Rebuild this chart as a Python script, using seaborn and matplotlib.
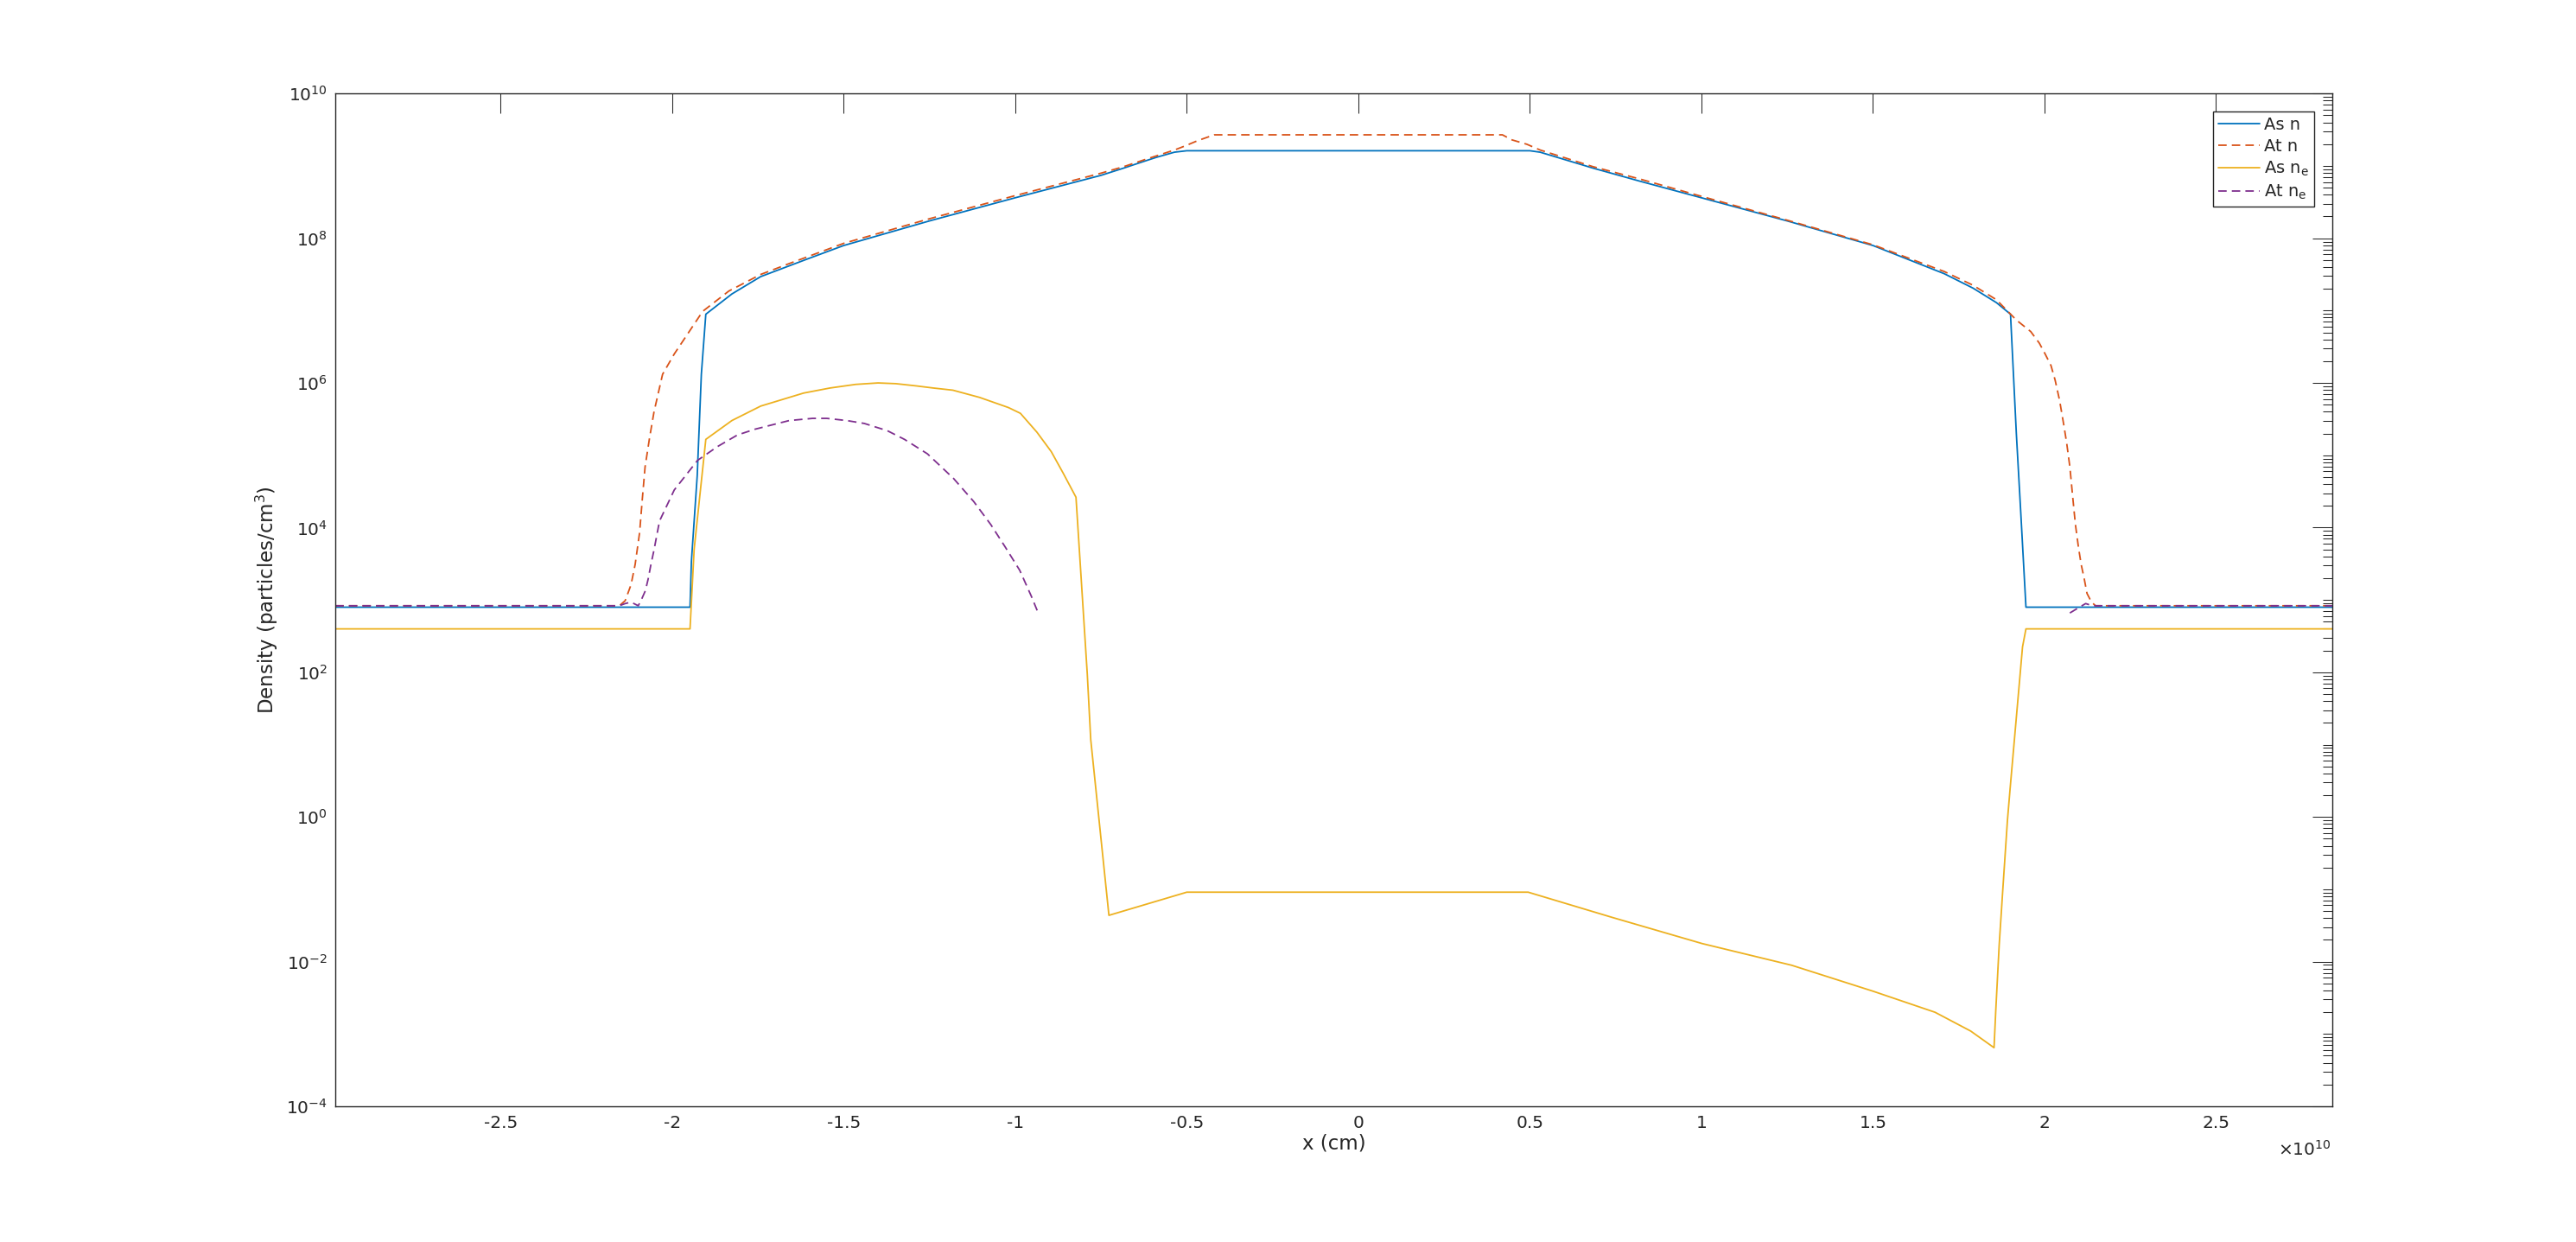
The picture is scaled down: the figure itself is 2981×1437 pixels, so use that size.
import numpy as np
import pandas as pd
import matplotlib
matplotlib.use("Agg")
import matplotlib.pyplot as plt
import seaborn as sns
from matplotlib.ticker import FixedLocator, LogLocator, NullFormatter, LogFormatterSciNotation

# ---------------- data (x in units of 1e10 cm, y as log10 density) ----------------
as_n_x = [-2.982, -1.948, -1.944, -1.927, -1.915, -1.902, -1.826, -1.742, -1.608, -1.5,
          -1.25, -1.0, -0.75, -0.684, -0.627, -0.588, -0.536, -0.5, 0.5, 0.53,
          0.684, 0.82, 1.0, 1.25, 1.5, 1.708, 1.792, 1.86, 1.901, 1.918,
          1.931, 1.946, 2.839]
as_n_log = [2.90, 2.90, 3.53, 4.72, 6.12, 6.95, 7.23, 7.47, 7.71, 7.90,
            8.24, 8.56, 8.87, 8.97, 9.06, 9.12, 9.19, 9.21, 9.21, 9.19,
            8.97, 8.79, 8.56, 8.24, 7.90, 7.51, 7.31, 7.11, 6.95, 5.30,
            4.20, 2.90, 2.90]

at_n_x = [-2.982, -2.154, -2.137, -2.12, -2.108, -2.095, -2.087, -2.079, -2.066, -2.053,
          -2.028, -1.994, -1.911, -1.835, -1.742, -1.659, -1.5, -1.25, -1.0, -0.75,
          -0.684, -0.627, -0.536, -0.506, -0.468, -0.429, -0.42, 0.42, 0.448, 0.491,
          0.53, 0.684, 0.82, 1.0, 1.25, 1.5, 1.708, 1.792, 1.86, 1.918,
          1.96, 1.985, 2.002, 2.019, 2.031, 2.044, 2.057, 2.065, 2.074, 2.082,
          2.09, 2.099, 2.107, 2.116, 2.124, 2.137, 2.149, 2.839]
at_n_log = [2.92, 2.92, 2.99, 3.21, 3.49, 3.93, 4.40, 4.84, 5.24, 5.60,
            6.12, 6.40, 6.99, 7.27, 7.50, 7.65, 7.93, 8.27, 8.59, 8.90,
            8.99, 9.08, 9.22, 9.275, 9.35, 9.415, 9.43, 9.43, 9.36, 9.30,
            9.22, 8.99, 8.82, 8.58, 8.25, 7.91, 7.54, 7.35, 7.15, 6.87,
            6.71, 6.55, 6.40, 6.24, 6.04, 5.76, 5.40, 5.16, 4.84, 4.44,
            4.05, 3.73, 3.49, 3.29, 3.09, 2.97, 2.92, 2.92]

as_ne_x = [-2.982, -1.948, -1.936, -1.902, -1.826, -1.742, -1.617, -1.54, -1.465, -1.40,
           -1.348, -1.29, -1.239, -1.182, -1.104, -1.02, -0.985, -0.937, -0.895, -0.86,
           -0.823, -0.790, -0.780, -0.727, -0.5, 0.495, 0.741, 1.002, 1.263, 1.501,
           1.681, 1.785, 1.853, 1.858, 1.868, 1.879, 1.892, 1.90, 1.936, 1.946,
           2.839]
as_ne_log = [2.60, 2.60, 3.70, 5.22, 5.48, 5.68, 5.86, 5.93, 5.98, 6.00,
             5.99, 5.96, 5.93, 5.90, 5.80, 5.66, 5.58, 5.32, 5.05, 4.75,
             4.42, 1.97, 1.07, -1.36, -1.04, -1.04, -1.39, -1.75, -2.05, -2.41,
             -2.70, -2.96, -3.19, -2.68, -1.77, -0.97, -0.05, 0.40, 2.35, 2.60,
             2.60]

at_ne_left_x = [-2.982, -2.154, -2.137, -2.12, -2.099, -2.091, -2.078, -2.07, -2.062, -2.053,
                -2.045, -2.037, -1.994, -1.926, -1.868, -1.810, -1.759, -1.709, -1.659, -1.591,
                -1.549, -1.491, -1.440, -1.373, -1.323, -1.256, -1.180, -1.121, -1.071, -1.029,
                -0.987, -0.953, -0.934]
at_ne_left_log = [2.92, 2.92, 2.95, 2.97, 2.92, 2.99, 3.13, 3.29, 3.49, 3.69,
                  3.89, 4.09, 4.52, 4.93, 5.12, 5.28, 5.36, 5.42, 5.48, 5.51,
                  5.51, 5.48, 5.44, 5.34, 5.22, 5.02, 4.68, 4.36, 4.04, 3.73,
                  3.41, 3.05, 2.83]
at_ne_right_x = [2.074, 2.095, 2.12, 2.14, 2.839]
at_ne_right_log = [2.82, 2.88, 2.95, 2.92, 2.92]

x_ticks = [-2.5, -2, -1.5, -1, -0.5, 0, 0.5, 1, 1.5, 2, 2.5]
x_tick_labels = ["-2.5", "-2", "-1.5", "-1", "-0.5", "0", "0.5", "1", "1.5", "2", "2.5"]
y_major = [1e-4, 1e-2, 1e0, 1e2, 1e4, 1e6, 1e8, 1e10]
legend_labels = ["As n", "At n", r"As n$_\mathrm{e}$", r"At n$_\mathrm{e}$"]

# ---------------- style ----------------
sns.set_style("white")
plt.rcParams["font.family"] = ["DejaVu Sans"]
plt.rcParams["mathtext.fontset"] = "dejavusans"
plt.rcParams["axes.unicode_minus"] = False

C_BLUE = "#0072BD"
C_RED = "#D95319"
C_YEL = "#EDB120"
C_PUR = "#7E2F8E"
DARK = "#262626"
LW = 1.3
DASH = (5.4, 3.3)

fig = plt.figure(figsize=(29.81, 14.37), dpi=100)
ax = fig.add_axes([0.13016, 0.10926, 0.77524, 0.81538])

def draw(xs, logs, color, dashed=False):
    df = pd.DataFrame({"x": xs, "y": np.power(10.0, logs)})
    n0 = len(ax.lines)
    sns.lineplot(data=df, x="x", y="y", ax=ax, color=color, linewidth=LW,
                 estimator=None, sort=False, legend=False)
    line = ax.lines[n0]
    if dashed:
        line.set_dashes(DASH)
    return line

l1 = draw(as_n_x, as_n_log, C_BLUE)
l2 = draw(at_n_x, at_n_log, C_RED, dashed=True)
l3 = draw(as_ne_x, as_ne_log, C_YEL)
l4 = draw(at_ne_left_x, at_ne_left_log, C_PUR, dashed=True)
draw(at_ne_right_x, at_ne_right_log, C_PUR, dashed=True)

ax.set_yscale("log")
ax.set_xlim(-2.982, 2.839)
ax.set_ylim(1e-4, 1e10)

ax.xaxis.set_major_locator(FixedLocator(x_ticks))
ax.set_xticklabels(x_tick_labels)
ax.yaxis.set_major_locator(FixedLocator(y_major))
ax.yaxis.set_major_formatter(LogFormatterSciNotation())
ax.yaxis.set_minor_locator(LogLocator(base=10, subs=np.arange(1, 10), numticks=100))
ax.yaxis.set_minor_formatter(NullFormatter())

for s in ax.spines.values():
    s.set_color(DARK)
    s.set_linewidth(1.0)
    s.set_visible(True)

ax.tick_params(which="both", direction="in", top=True, right=True,
               color=DARK, labelcolor=DARK, width=0.75)
ax.tick_params(which="major", length=16.6, labelsize=14.5)
ax.tick_params(which="minor", length=7.7)
ax.tick_params(axis="y", which="major", pad=6.5)
ax.tick_params(axis="x", which="major", pad=7)
ax.grid(False)

ax.set_xlabel("x (cm)", fontsize=16.5, color=DARK, labelpad=2)
ax.set_ylabel("Density (particles/cm$^3$)", fontsize=16.5, color=DARK, labelpad=5)

fig.text(2698 / 2981, 1 - 1330 / 1437, r"$\times\mathdefault{10^{10}}$",
         ha="right", va="center", fontsize=14.5, color=DARK)

leg = ax.legend([l1, l2, l3, l4], legend_labels, loc="upper right",
                bbox_to_anchor=(2678 / 2981, 1 - 129.3 / 1437),
                bbox_transform=fig.transFigure, fontsize=14, frameon=True,
                fancybox=False, edgecolor=DARK, framealpha=1, borderpad=0.3,
                labelspacing=0.3, handlelength=2.5, handletextpad=0.25,
                borderaxespad=0)
leg.get_frame().set_linewidth(1.0)
for t in leg.get_texts():
    t.set_color(DARK)

fig.savefig("out.png", dpi=100)
